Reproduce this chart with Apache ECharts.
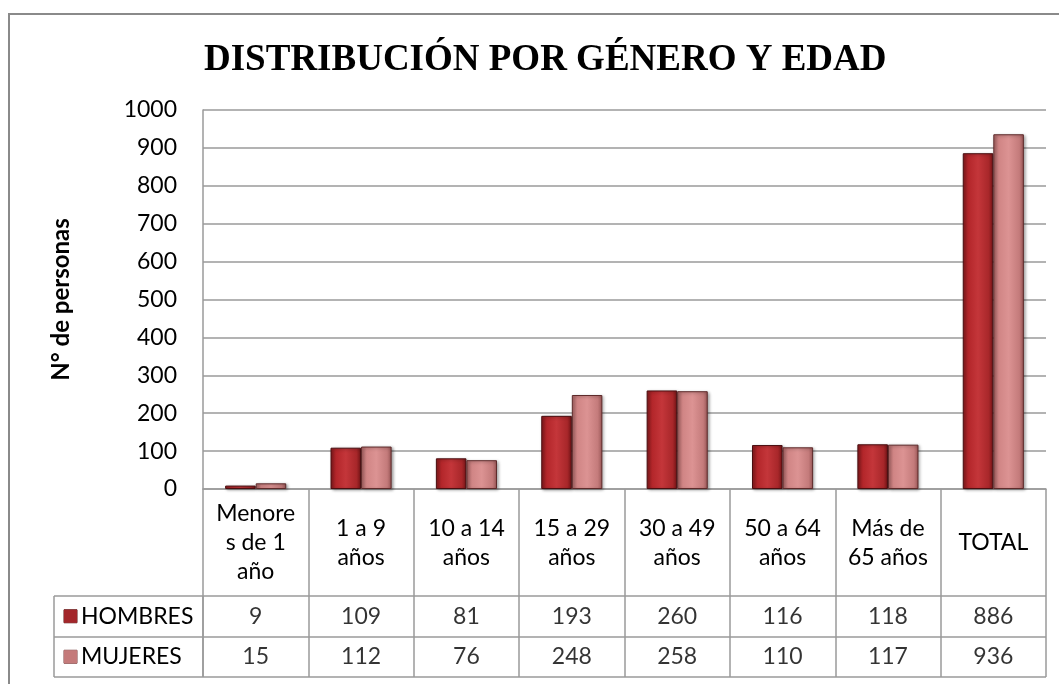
<!DOCTYPE html>
<html>
<head>
<meta charset="utf-8">
<script src="https://cdn.jsdelivr.net/npm/echarts@6/dist/echarts.min.js"></script>
<style>html,body{margin:0;padding:0;background:#fff}#c{width:1059px;height:684px}</style>
</head>
<body>
<div id="c"></div>
<script>
const titleText = 'DISTRIBUCIÓN POR GÉNERO Y EDAD';
const yAxisTitle = 'N° de personas';
const categories = ['Menores de 1 año', '1 a 9 años', '10 a 14 años', '15 a 29 años', '30 a 49 años', '50 a 64 años', 'Más de 65 años', 'TOTAL'];
const tickLabels = ['Menore\ns de 1\naño', '1 a 9\naños', '10 a 14\naños', '15 a 29\naños', '30 a 49\naños', '50 a 64\naños', 'Más de\n65 años', 'TOTAL'];
const seriesNames = ['HOMBRES', 'MUJERES'];
const hombres = [9, 109, 81, 193, 260, 116, 118, 886];
const mujeres = [15, 112, 76, 248, 258, 110, 117, 936];
const yTicks = [0, 100, 200, 300, 400, 500, 600, 700, 800, 900, 1000];

const FONT = 'Lato, "Open Sans", sans-serif';
const LINE = '#9a9a9a';
const G = echarts.graphic.LinearGradient;

const hombresFill = new G(0, 0, 1, 0, [
  {offset: 0, color: '#861a1d'}, {offset: 0.18, color: '#b3262a'},
  {offset: 0.5, color: '#c4363a'}, {offset: 0.85, color: '#a8272a'},
  {offset: 1, color: '#721416'}]);
const mujeresFill = new G(0, 0, 1, 0, [
  {offset: 0, color: '#a86464'}, {offset: 0.18, color: '#d08585'},
  {offset: 0.5, color: '#dc9393'}, {offset: 0.85, color: '#c47b7b'},
  {offset: 1, color: '#985656'}]);
const legendColors = ['#a3262a', '#c47a7a'];

const chart = echarts.init(document.getElementById('c'), null, {renderer: 'canvas'});

const cellData = (arr, row) => arr.map((v, i) => [i, row, v]);

chart.setOption({
  backgroundColor: '#ffffff',
  animation: false,
  title: {
    text: titleText, left: 199, top: 37,
    textStyle: {fontFamily: '"Liberation Serif", "Times New Roman", serif', fontWeight: 'bold', fontSize: 37, color: '#000'}
  },
  graphic: [{
    type: 'rect', silent: true, z: -1,
    shape: {x: 9, y: 14, width: 1100, height: 700},
    style: {fill: 'none', stroke: '#8a8a8a', lineWidth: 2}
  }],
  grid: [
    {left: 203, right: 13, top: 110, height: 379},
    {left: 203, right: 13, top: 596, height: 81},
    {left: 54, width: 149, top: 596, height: 81}
  ],
  xAxis: [
    {
      type: 'category', gridIndex: 0, data: categories,
      axisLine: {show: true, lineStyle: {color: LINE, width: 1.5}},
      axisTick: {show: true, interval: 0, length: 107, lineStyle: {color: LINE, width: 1.5}},
      axisLabel: {
        interval: 0, margin: 54, verticalAlign: 'middle', fontFamily: FONT, fontSize: 23,
        lineHeight: 29, color: '#000', formatter: (v, i) => tickLabels[i]
      },
      splitLine: {show: false}
    },
    {
      type: 'category', gridIndex: 1, data: categories,
      axisLine: {show: false}, axisTick: {show: false}, axisLabel: {show: false},
      splitLine: {show: true, interval: 0, lineStyle: {color: LINE, width: 1.5}}
    },
    {
      type: 'category', gridIndex: 2, data: [''],
      axisLine: {show: false}, axisTick: {show: false}, axisLabel: {show: false},
      splitLine: {show: true, interval: 0, lineStyle: {color: LINE, width: 1.5}}
    }
  ],
  yAxis: [
    {
      type: 'value', gridIndex: 0, min: 0, max: 1000, interval: 100,
      name: yAxisTitle, nameLocation: 'middle', nameGap: 130,
      nameTextStyle: {fontFamily: FONT, fontWeight: 'bold', fontSize: 24, color: '#000'},
      axisLine: {show: true, lineStyle: {color: LINE, width: 1.5}},
      axisTick: {show: false},
      axisLabel: {margin: 26, fontFamily: FONT, fontSize: 23, color: '#000',
        formatter: v => (yTicks.indexOf(v) >= 0 ? String(v) : '')},
      splitLine: {show: true, lineStyle: {color: LINE, width: 1.5}}
    },
    {
      type: 'category', gridIndex: 1, data: seriesNames, inverse: true,
      axisLine: {show: false}, axisTick: {show: false}, axisLabel: {show: false},
      splitLine: {show: true, interval: 0, lineStyle: {color: LINE, width: 1.5}}
    },
    {
      type: 'category', gridIndex: 2, data: seriesNames, inverse: true,
      axisLine: {show: false}, axisTick: {show: false},
      splitLine: {show: true, interval: 0, lineStyle: {color: LINE, width: 1.5}},
      axisLabel: {
        inside: true, margin: 10, fontFamily: FONT, fontSize: 23, color: '#000',
        formatter: (v, i) => '{i' + i + '|}{t|' + v + '}',
        rich: {
          i0: {backgroundColor: legendColors[0], width: 13, height: 13, borderColor: '#5a1010', borderWidth: 0.5},
          i1: {backgroundColor: legendColors[1], width: 13, height: 13, borderColor: '#7a4040', borderWidth: 0.5},
          t: {fontFamily: FONT, fontSize: 23, color: '#000', padding: [0, 0, 0, 4]}
        }
      }
    }
  ],
  series: [
    {
      name: seriesNames[0], type: 'bar', xAxisIndex: 0, yAxisIndex: 0, data: hombres,
      barGap: '0%', barCategoryGap: '42%',
      itemStyle: {color: hombresFill, borderColor: '#4a0e10', borderWidth: 1,
        shadowBlur: 3, shadowColor: 'rgba(0,0,0,0.35)', shadowOffsetX: 1.5, shadowOffsetY: 1}
    },
    {
      name: seriesNames[1], type: 'bar', xAxisIndex: 0, yAxisIndex: 0, data: mujeres,
      barGap: '0%', barCategoryGap: '42%',
      itemStyle: {color: mujeresFill, borderColor: '#5e2a2a', borderWidth: 1,
        shadowBlur: 3, shadowColor: 'rgba(0,0,0,0.35)', shadowOffsetX: 1.5, shadowOffsetY: 1}
    },
    {
      type: 'scatter', xAxisIndex: 1, yAxisIndex: 1, silent: true,
      data: cellData(hombres, 0).concat(cellData(mujeres, 1)),
      symbolSize: 1, itemStyle: {color: 'rgba(0,0,0,0)'},
      label: {show: true, position: 'inside', formatter: p => String(p.value[2]),
        fontFamily: FONT, fontSize: 23, color: '#000'}
    }
  ]
});
</script>
</body>
</html>
